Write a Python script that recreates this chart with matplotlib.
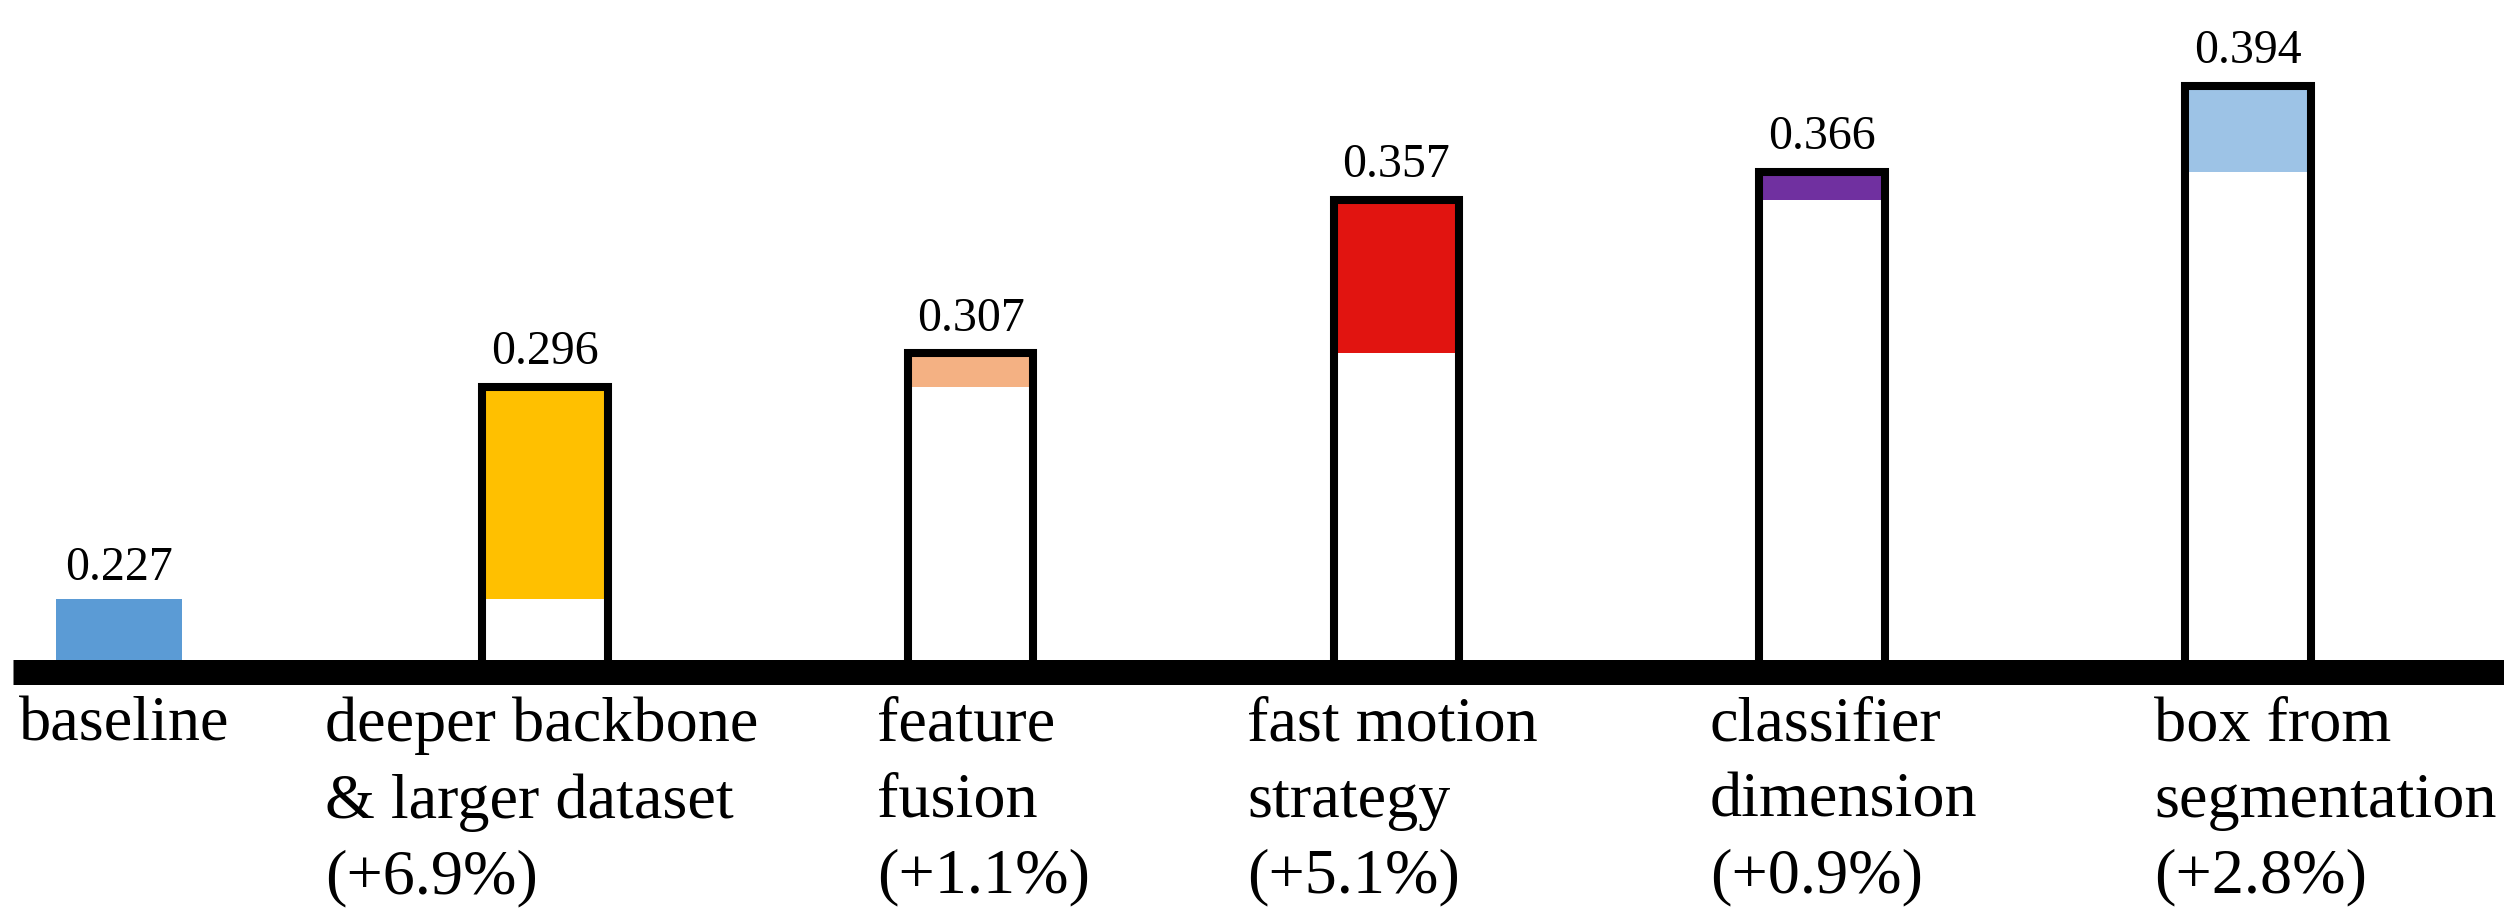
import matplotlib
matplotlib.use('Agg')
import matplotlib.pyplot as plt
import matplotlib.transforms as mtransforms
import numpy as np

plt.rcParams['font.family'] = ['Liberation Serif', 'DejaVu Serif']

# Data
labels = [
    'baseline',
    'deeper backbone\n& larger dataset\n(+6.9%)',
    'feature\nfusion\n(+1.1%)',
    'fast motion\nstrategy\n(+5.1%)',
    'classifier\ndimension\n(+0.9%)',
    'box from\nsegmentation\n(+2.8%)',
]
scores = [0.227, 0.296, 0.307, 0.357, 0.366, 0.394]
value_text = ['0.227', '0.296', '0.307', '0.357', '0.366', '0.394']
colors = ['#5B9BD5', '#FFC000', '#F4B183', '#E11410', '#7030A0', '#9DC3E6']

# Layout (label left edges relative to bar centers, in bar units)
label_offsets = [-0.235, -0.516, -0.220, -0.351, -0.264, -0.221]

W, H, DPI = 2504, 912, 100
fig = plt.figure(figsize=(W / DPI, H / DPI), dpi=DPI)

axis_top_px = 660      # top of the thick baseline band (from image top)
band_px = 25
ax_bottom_px = axis_top_px + band_px / 2
ax_left_px = 13
ax = fig.add_axes([ax_left_px / W, (H - ax_bottom_px) / H,
                   1 - ax_left_px / W, ax_bottom_px / H])

px_per_unit_y = 3075.6
v_axis = 0.2076
ybot = v_axis - (band_px / 2) / px_per_unit_y
ytop = ybot + ax_bottom_px / px_per_unit_y
ax.set_ylim(ybot, ytop)

px_per_unit_x = 425.8
first_center_px = 119
xleft = (ax_left_px - first_center_px) / px_per_unit_x
xright = (W - first_center_px) / px_per_unit_x
ax.set_xlim(xleft, xright)

x = np.arange(len(scores))
width = 0.295
edge_lw = 5.8

for i, (xi, s) in enumerate(zip(x, scores)):
    if i == 0:
        ax.bar(xi, s, width, color=colors[i], linewidth=0, zorder=2)
        off = 14.4
    else:
        prev = scores[i - 1]
        ax.bar(xi, s, width, color='white', linewidth=0, zorder=2)
        ax.bar(xi, s - prev, width, bottom=prev, color=colors[i],
               linewidth=0, zorder=3)
        ax.bar(xi, s, width, facecolor='none', edgecolor='black',
               linewidth=edge_lw, zorder=4)
        off = 14.2 + edge_lw / 2
    ax.annotate(value_text[i], (xi, s), xytext=(0, off),
                textcoords='offset points', ha='center', va='baseline',
                fontsize=34.5, color='black')

# thick baseline
for side in ['top', 'right', 'left']:
    ax.spines[side].set_visible(False)
ax.spines['bottom'].set_linewidth(band_px * 72 / DPI)
ax.spines['bottom'].set_capstyle('butt')
ax.spines['bottom'].set_zorder(5)
ax.set_xticks([])
ax.set_yticks([])
ax.patch.set_alpha(0)

# category labels below the axis
trans = mtransforms.blended_transform_factory(ax.transData, ax.transAxes)
label_y = (ax_bottom_px - 697) / ax_bottom_px
for xi, lab, o in zip(x, labels, label_offsets):
    ax.text(xi + o, label_y, lab, transform=trans, ha='left', va='top',
            fontsize=46.2, linespacing=1.4, clip_on=False)

fig.savefig('out.png', dpi=DPI)
